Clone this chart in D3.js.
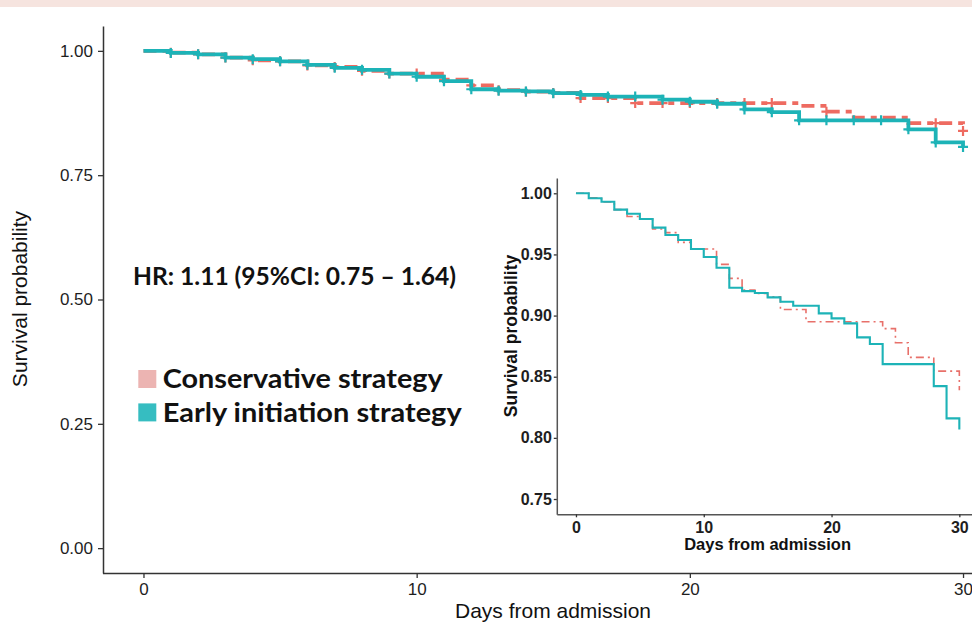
<!DOCTYPE html>
<html><head><meta charset="utf-8">
<script src="https://cdn.jsdelivr.net/npm/d3@7"></script>
<style>body{margin:0;background:#fff;} svg{display:block;}</style>
</head><body>
<script>
// ---- data ----
const days = d3.range(0, 31);
const earlySurv = [1.0, 0.9959, 0.9931, 0.9866, 0.9833, 0.979, 0.9719, 0.9659, 0.9618, 0.9544,
  0.9479, 0.9391, 0.9228, 0.9200, 0.9185, 0.9149, 0.9113, 0.908, 0.908, 0.9018,
  0.8977, 0.8936, 0.8822, 0.8767, 0.8603, 0.8603, 0.8603, 0.8603, 0.8423, 0.8159, 0.8069];
const consSurv = [1.0, 0.9964, 0.993, 0.9866, 0.981, 0.979, 0.9708, 0.9678, 0.9599, 0.9544,
  0.9544, 0.9419, 0.9304, 0.9209, 0.918, 0.9153, 0.905, 0.905, 0.895, 0.895,
  0.895, 0.895, 0.895, 0.895, 0.8893, 0.8778, 0.8658, 0.8658, 0.8546, 0.8546, 0.839];
const earlyCensorDays = d3.range(1, 31);
const consCensorDays = [1,2,3,4,5,6,7,8,9,10,11,12,13,14,15,16,17,18,19,20,21,22,23,25,29,30];
const mainYTicks = [0, 0.25, 0.5, 0.75, 1];
const mainXTicks = [0, 10, 20, 30];
const insetYTicks = [0.75, 0.8, 0.85, 0.9, 0.95, 1];
const insetXTicks = [0, 10, 20, 30];
const seriesNames = ["Conservative strategy", "Early initiation strategy"];
const hrLabel = "HR: 1.11 (95%CI: 0.75 \u2013 1.64)";
const xTitle = "Days from admission";
const yTitle = "Survival probability";

// ---- styles ----
const TEAL = "#1db3b7", RED = "#ee6b61";
const LEG_PINK = "#ecb4b2", LEG_TEAL = "#36bdc1";
const AX = "#333", TXT = "#1e1e1e";
const SANS = "Arial, 'Liberation Sans', Helvetica, sans-serif";
const CAL = "Lato, 'Open Sans', sans-serif";

const W = 972, H = 625;
const svg = d3.select("body").append("svg").attr("width", W).attr("height", H);
svg.append("rect").attr("width", W).attr("height", H).attr("fill", "#fff");
svg.append("rect").attr("x", 0).attr("y", 0).attr("width", W).attr("height", 7).attr("fill", "#f6e4df");

const early = days.map((d, i) => ({d, s: earlySurv[i]}));
const cons = days.map((d, i) => ({d, s: consSurv[i]}));

// ---- main panel ----
const x = d3.scaleLinear().domain([-1.5, 31.5]).range([102.5, 1004]);
const y = d3.scaleLinear().domain([-0.05, 1.05]).range([573, 26]);

function styleAxis(g, size, weight) {
  g.attr("font-family", null);
  g.select(".domain").attr("stroke", AX).attr("stroke-width", 1.5);
  g.selectAll(".tick line").attr("stroke", AX).attr("stroke-width", 1.3);
  g.selectAll(".tick text").attr("fill", TXT).attr("font-family", SANS)
    .attr("font-size", size).attr("font-weight", weight);
}

const gy = svg.append("g").attr("transform", "translate(103,0)")
  .call(d3.axisLeft(y).tickValues(mainYTicks).tickFormat(d3.format(".2f"))
    .tickSize(5).tickSizeOuter(0).tickPadding(5));
styleAxis(gy, 17, 400);
const gx = svg.append("g").attr("transform", "translate(0,573)")
  .call(d3.axisBottom(x).tickValues(mainXTicks).tickFormat(d3.format("d"))
    .tickSize(5).tickSizeOuter(0).tickPadding(5));
styleAxis(gx, 17, 400);

svg.append("text").attr("transform", "translate(27,299) rotate(-90)")
  .attr("text-anchor", "middle").attr("font-family", SANS).attr("font-size", 21)
  .attr("fill", "#111").text(yTitle);
svg.append("text").attr("x", 553).attr("y", 618)
  .attr("text-anchor", "middle").attr("font-family", SANS).attr("font-size", 21)
  .attr("fill", "#111").text(xTitle);

const mainLine = d3.line().x(p => x(p.d)).y(p => y(p.s)).curve(d3.curveStepAfter);
const plus = "M-5,0H5M0,-5V5";

svg.append("path").datum(cons).attr("d", mainLine).attr("fill", "none")
  .attr("stroke", RED).attr("stroke-width", 3.8).attr("stroke-dasharray", "13,6,6,6");
svg.append("g").selectAll("path").data(consCensorDays).join("path")
  .attr("transform", d => `translate(${x(d)},${y(consSurv[d])})`)
  .attr("d", plus).attr("stroke", RED).attr("stroke-width", 2.2).attr("fill", "none");
svg.append("path").datum(early).attr("d", mainLine).attr("fill", "none")
  .attr("stroke", TEAL).attr("stroke-width", 3.8);
svg.append("g").selectAll("path").data(earlyCensorDays).join("path")
  .attr("transform", d => `translate(${x(d)},${y(earlySurv[d])})`)
  .attr("d", plus).attr("stroke", TEAL).attr("stroke-width", 2.2).attr("fill", "none");

// ---- HR + legend ----
svg.append("text").attr("x", 133).attr("y", 285)
  .attr("font-family", CAL).attr("font-weight", 700).attr("font-size", 24)
  .attr("fill", "#111").attr("textLength", 323).attr("lengthAdjust", "spacingAndGlyphs")
  .text(hrLabel);
const legColors = [LEG_PINK, LEG_TEAL];
const legY = [388.3, 421.7];
const legLen = [280, 299];
seriesNames.forEach((name, i) => {
  svg.append("rect").attr("x", 138.3).attr("y", legY[i] - 18.3).attr("width", 18)
    .attr("height", 18).attr("fill", legColors[i]);
  svg.append("text").attr("x", 162.7).attr("y", legY[i])
    .attr("font-family", CAL).attr("font-weight", 700).attr("font-size", 27.5)
    .attr("fill", "#111").attr("textLength", legLen[i]).attr("lengthAdjust", "spacingAndGlyphs")
    .text(name);
});

// ---- inset ----
svg.append("rect").attr("x", 498).attr("y", 172).attr("width", 474).attr("height", 386).attr("fill", "#fff");
const xi = d3.scaleLinear().domain([-1.5, 31.5]).range([556.8, 978.5]);
const yi = d3.scaleLinear().domain([0.7375, 1.0125]).range([514.3, 178]);
const gyi = svg.append("g").attr("transform", "translate(556.8,0)")
  .call(d3.axisLeft(yi).tickValues(insetYTicks).tickFormat(d3.format(".2f"))
    .tickSize(3).tickSizeOuter(0).tickPadding(2));
styleAxis(gyi, 16, 700);
const gxi = svg.append("g").attr("transform", "translate(0,514.3)")
  .call(d3.axisBottom(xi).tickValues(insetXTicks).tickFormat(d3.format("d"))
    .tickSize(3).tickSizeOuter(0).tickPadding(4));
styleAxis(gxi, 16, 700);
gyi.select(".domain").attr("stroke", "#555");
gxi.select(".domain").attr("stroke", "#555");

svg.append("text").attr("transform", "translate(517,336) rotate(-90)")
  .attr("text-anchor", "middle").attr("font-family", SANS).attr("font-size", 17.5)
  .attr("font-weight", 700).attr("fill", "#111").text(yTitle);
svg.append("text").attr("x", 767.6).attr("y", 550)
  .attr("text-anchor", "middle").attr("font-family", SANS).attr("font-size", 16.5)
  .attr("font-weight", 700).attr("fill", "#111").text(xTitle);

const insetLine = d3.line().x(p => xi(p.d)).y(p => yi(p.s)).curve(d3.curveStepAfter);
svg.append("path").datum(cons).attr("d", insetLine).attr("fill", "none")
  .attr("stroke", "#e8706a").attr("stroke-width", 1.6).attr("stroke-dasharray", "8,4,2,4");
svg.append("path").datum(early).attr("d", insetLine).attr("fill", "none")
  .attr("stroke", TEAL).attr("stroke-width", 2.1);
</script>
</body></html>
